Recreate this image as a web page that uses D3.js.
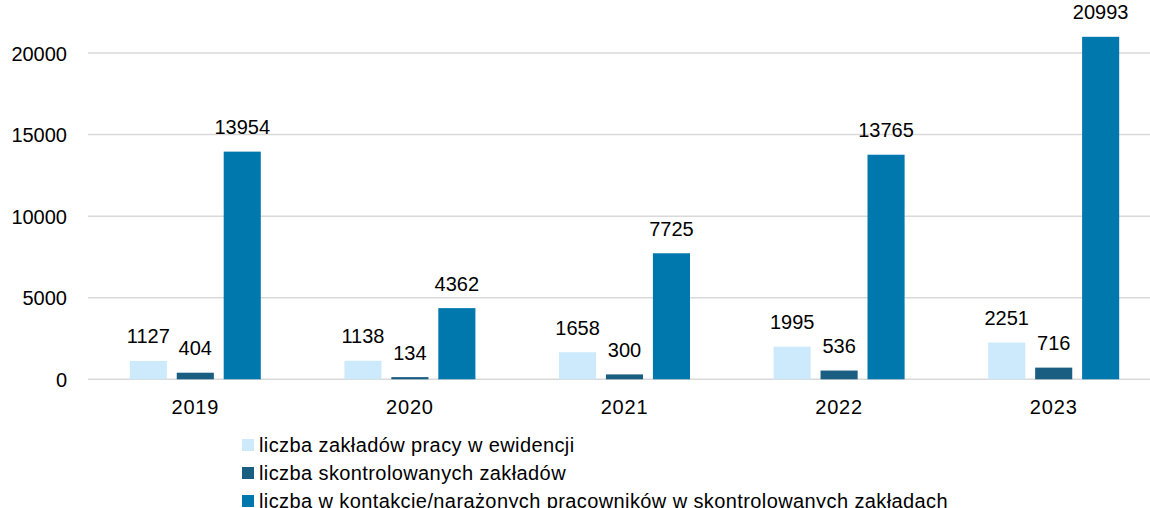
<!DOCTYPE html>
<html><head><meta charset="utf-8">
<script src="https://cdn.jsdelivr.net/npm/d3@7"></script>
<style>
body{margin:0;background:#fff;}
svg{display:block;font-family:"Liberation Sans",Arial,sans-serif;}
</style></head>
<body><svg id="c" width="1150" height="508"></svg>
<script>
const categories = ["2019","2020","2021","2022","2023"];
const seriesNames = ["liczba zakładów pracy w ewidencji","liczba skontrolowanych zakładów","liczba w kontakcie/narażonych pracowników w skontrolowanych zakładach"];
const seriesA = [1127,1138,1658,1995,2251];
const seriesB = [404,134,300,536,716];
const seriesC = [13954,4362,7725,13765,20993];
const yTicks = [0,5000,10000,15000,20000];
const colors = ["#cdeafc","#1a5f82","#0078ae"];

(function(){
const series = [seriesA, seriesB, seriesC];
const svg = d3.select("#c");
const pLeft = 88, pRight = 1161, pTop = 53, pBottom = 379.3;
const y = d3.scaleLinear().domain([0,20000]).range([pBottom, pTop]);
const x0 = d3.scaleBand().domain(categories).range([pLeft,pRight]).paddingInner(0).paddingOuter(0);
const x1 = d3.scaleBand().domain([0,1,2]).range([x0.bandwidth()/2-65.5, x0.bandwidth()/2+65.5]).paddingInner(0.21).paddingOuter(0);

svg.append("g").selectAll("line").data(yTicks).join("line")
  .attr("x1",pLeft).attr("x2",1150)
  .attr("y1",d=>y(d)).attr("y2",d=>y(d))
  .attr("stroke","#d9d9d9").attr("stroke-width",1.5);

const yAxis = d3.axisLeft(y).tickValues(yTicks).tickSize(0).tickPadding(0).tickFormat(d=>String(d));
const ya = svg.append("g").attr("transform",`translate(67,0)`).call(yAxis);
ya.select(".domain").remove();
ya.selectAll("text").attr("font-size",20).attr("fill","#000").attr("font-family","Liberation Sans, Arial, sans-serif").attr("dy","0.35em");

const xAxis = d3.axisBottom(x0).tickSize(0).tickPadding(0);
const xa = svg.append("g").attr("transform",`translate(0,${pBottom+20})`).call(xAxis);
xa.select(".domain").remove();
xa.selectAll("text").attr("font-size",20).attr("fill","#000").attr("font-family","Liberation Sans, Arial, sans-serif").attr("dy","0.71em").attr("letter-spacing","0.8");

const groups = svg.append("g").selectAll("g").data(categories).join("g")
  .attr("transform",d=>`translate(${x0(d)},0)`);
groups.each(function(cat,ci){
  const g = d3.select(this);
  series.forEach((s,si)=>{
    g.append("rect")
      .attr("x",x1(si)).attr("width",x1.bandwidth())
      .attr("y",y(s[ci])).attr("height",pBottom-y(s[ci]))
      .attr("fill",colors[si]);
    g.append("text")
      .attr("x",x1(si)+x1.bandwidth()/2)
      .attr("y",y(s[ci])-17.5)
      .attr("text-anchor","middle").attr("font-size",20).attr("fill","#000")
      .text(s[ci]);
  });
});

const lg = svg.append("g").selectAll("g").data(seriesNames).join("g")
  .attr("transform",(d,i)=>`translate(242,${445+i*28})`);
lg.append("rect").attr("x",0).attr("y",-6).attr("width",12).attr("height",12).attr("fill",(d,i)=>colors[i]);
lg.append("text").attr("x",17).attr("y",0).attr("dy","0.35em").attr("font-size",20).attr("fill","#000")
  .attr("letter-spacing","0.4").text(d=>d);
})();
</script></body></html>
